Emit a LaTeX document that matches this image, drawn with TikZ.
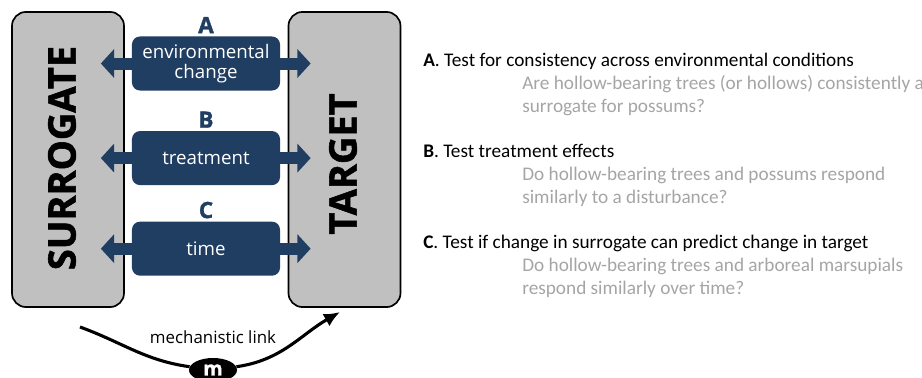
\documentclass[tikz,border=0pt]{standalone}
\usepackage{fontspec}
\setmainfont{Carlito}
\newfontfamily\panelfont{Open Sans}[BoldFeatures={FakeBold=1.5}]
\usepackage{tikz}
\usetikzlibrary{arrows.meta,positioning,shapes.geometric}
\definecolor{PanelNavy}{HTML}{203E62}
\definecolor{PanelGrey}{HTML}{C0C0C0}
\definecolor{QuestGrey}{HTML}{A5A5A5}
\pgfdeclarelayer{back}
\pgfdeclarelayer{mid}
\pgfsetlayers{back,mid,main}

\begin{document}
\begin{tikzpicture}[
    x=0.025cm,y=-0.025cm,
    node distance=10mm,
    side/.style={draw=black,line width=1.2pt,rounded corners=3.5mm,fill=PanelGrey,
      minimum width=2.8cm,minimum height=7.375cm},
    sidetext/.style={rotate=90,inner sep=0pt,font=\panelfont\bfseries\fontsize{27}{27}\selectfont},
    test/.style={fill=PanelNavy,rounded corners=2mm,text=white,
      minimum width=3.7cm,minimum height=1.35cm,align=center,
      font=\panelfont\fontsize{13.3}{14}\selectfont},
    tag/.style={text=PanelNavy,inner sep=0pt,font=\panelfont\bfseries\fontsize{16}{16}\selectfont},
    biarr/.style={{Triangle[length=3.3mm,width=7mm]}-{Triangle[length=3.3mm,width=7mm]},
      line width=3mm,draw=PanelNavy},
    head/.style={anchor=base west,inner sep=0pt,font=\fontsize{13.7}{15.7}\selectfont},
    quest/.style={anchor=base west,inner sep=0pt,align=left,text=QuestGrey,
      font=\fontsize{13.7}{15.7}\selectfont},
    mnode/.style={ellipse,fill=black,text=white,minimum width=1.2cm,minimum height=0.6cm,
      inner sep=0pt,font=\panelfont\bfseries\fontsize{14}{14}\selectfont},
    link/.style={line width=2.2pt,draw=black}
  ]
    \useasboundingbox (0,0) rectangle (922,377);
    \begin{pgfonlayer}{back}
      \node[side] (sur) at (68,159.5) {};
      \node[side] (tgt) at (344.5,159.5) {};
    \end{pgfonlayer}
    \node[sidetext] (surt) at (62,158) {SURROGATE};
    \node[sidetext] (tgtt) at (343,164) {TARGET};
    \node[test] (a) at (206,63.5) {environmental\\change};
    \node[test,below=of a] (b) {treatment};
    \node[test,below=9mm of b] (c) {time};
    \node[tag,above=0.7mm of a] (la) {A};
    \node[tag,above=0.7mm of b] (lb) {B};
    \node[tag,above=0.7mm of c] (lc) {C};
    \begin{pgfonlayer}{mid}
      \foreach \t in {a,b,c}{
        \coordinate (\t in) at ([xshift=-6mm]sur.east |- \t);
        \coordinate (\t out) at ([xshift=5.75mm]tgt.west |- \t);
        \draw[biarr] (\t in) -- (\t out);
      }
    \end{pgfonlayer}
    \node[mnode] (m) at (213,370) {m};
    \coordinate (ls) at (80,327);
    \coordinate (le) at (340,312);
    \draw[link] (ls) to[out=-20,in=172] (m);
    \draw[link,-{Latex[length=4mm,width=3.5mm]}] (m) to[out=8,in=-150] (le);
    \node[font=\panelfont\fontsize{12}{12}\selectfont] (ml) at (213,337) {mechanistic link};
    \node[head] (qa) at (423,66) {\textbf{A}. Test for consistency across environmental conditions};
    \node[quest] (qa1) at (522,112) {Are hollow-bearing trees (or hollows) consistently a\\surrogate for possums?};
    \node[head] (qb) at (423,157) {\textbf{B}. Test treatment effects};
    \node[quest] (qb1) at (522,203) {Do hollow-bearing trees and possums respond\\similarly to a disturbance?};
    \node[head] (qc) at (423,248) {\textbf{C}. Test if change in surrogate can predict change in target};
    \node[quest] (qc1) at (522,294) {Do hollow-bearing trees and arboreal marsupials\\respond similarly over time?};
  \end{tikzpicture}
\end{document}
